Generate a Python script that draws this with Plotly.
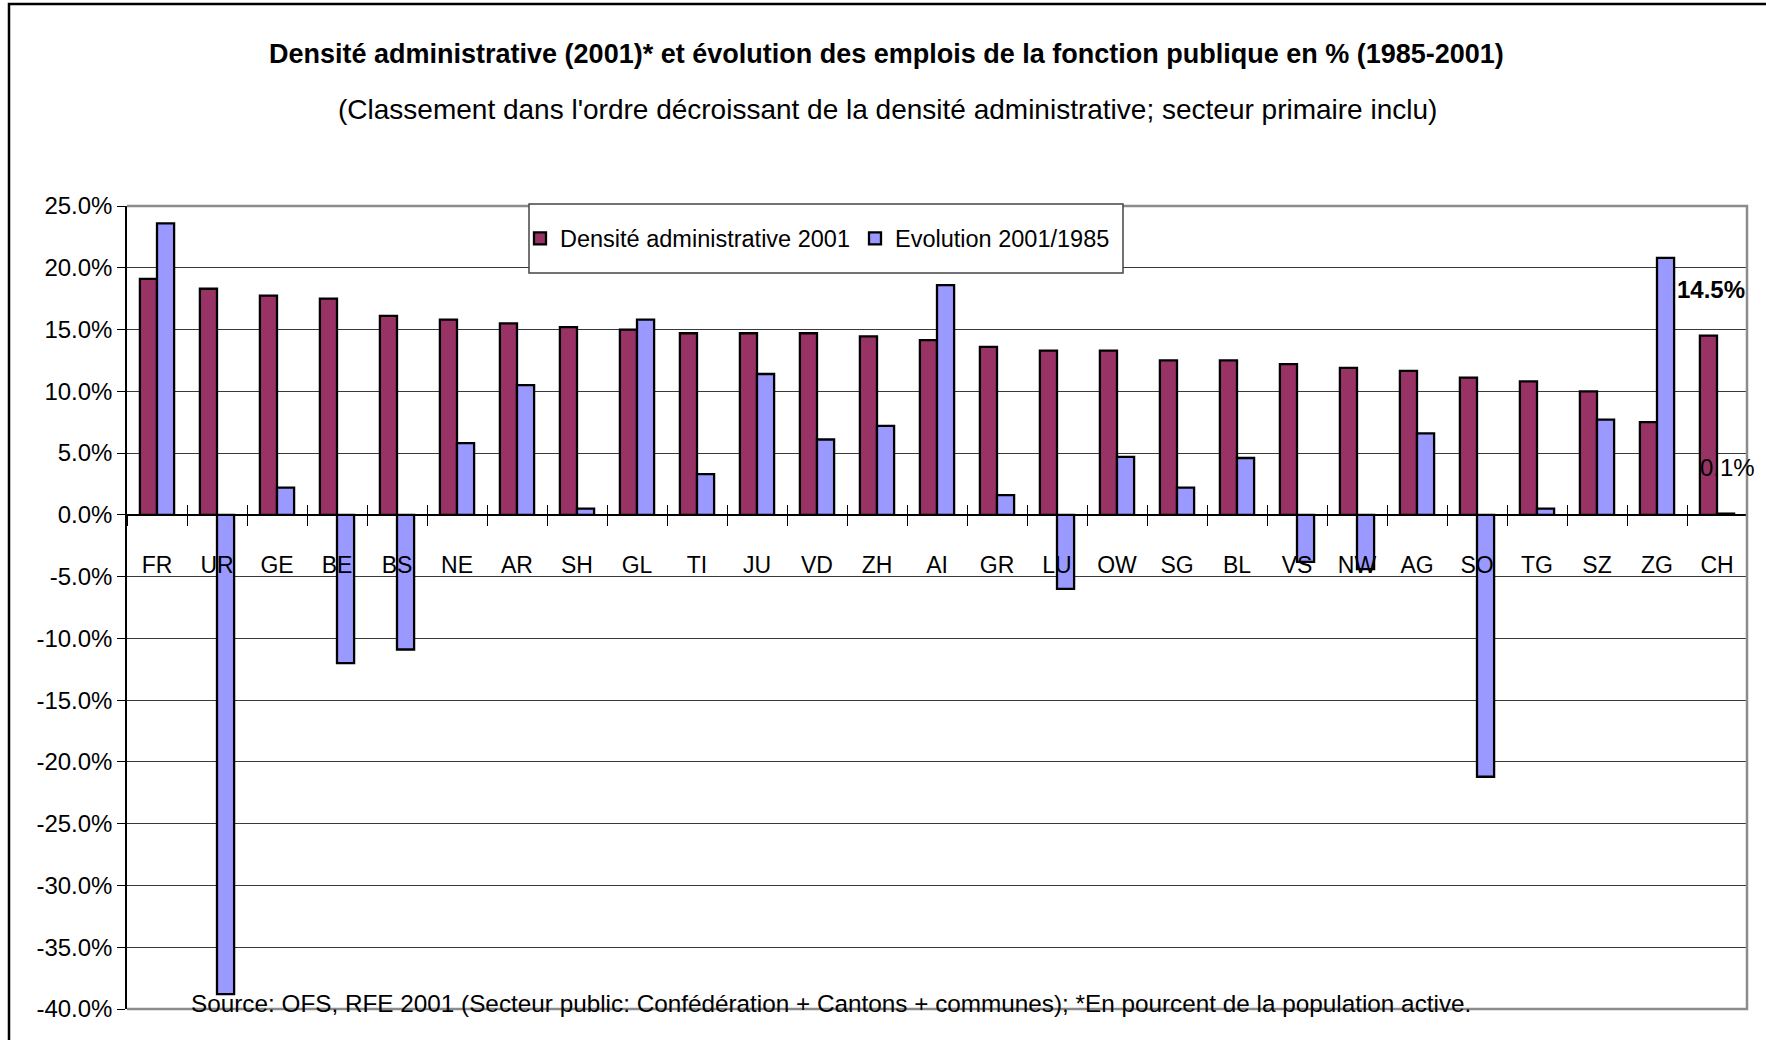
import plotly.graph_objects as go

# ---------------- data ----------------
cantons = ["FR", "UR", "GE", "BE", "BS", "NE", "AR", "SH", "GL", "TI", "JU", "VD", "ZH", "AI",
           "GR", "LU", "OW", "SG", "BL", "VS", "NW", "AG", "SO", "TG", "SZ", "ZG", "CH"]
densite = [19.1, 18.3, 17.75, 17.5, 16.1, 15.8, 15.5, 15.2, 15.0, 14.7, 14.7, 14.7, 14.45, 14.15,
           13.6, 13.3, 13.3, 12.5, 12.5, 12.2, 11.9, 11.65, 11.1, 10.8, 10.0, 7.5, 14.5]
evolution = [23.6, -38.8, 2.2, -12.0, -10.9, 5.8, 10.5, 0.5, 15.8, 3.3, 11.4, 6.1, 7.2, 18.6,
             1.6, -6.0, 4.7, 2.2, 4.6, -3.8, -4.4, 6.6, -21.2, 0.5, 7.7, 20.8, 0.1]
y_ticks = [25, 20, 15, 10, 5, 0, -5, -10, -15, -20, -25, -30, -35, -40]
y_ticktext = [f"{v:.1f}%" for v in y_ticks]

series_names = ["Densité administrative 2001", "Evolution 2001/1985"]
title_text = "Densité administrative (2001)* et évolution des emplois de la fonction publique en % (1985-2001)"
subtitle_text = "(Classement dans l'ordre décroissant de la densité administrative; secteur primaire inclu)"
source_text = ("Source: OFS, RFE 2001 (Secteur public: Confédération + Cantons + communes); "
               "*En pourcent de la population active.")

# ---------------- layout geometry (pixels) ----------------
W, H = 1766, 1040
L, R, T, B = 127, 19, 206, 31
PW, PH = W - L - R, H - T - B
YMIN, YMAX = -40, 25
ZERO_POS = (0 - YMIN) / (YMAX - YMIN)
X_RANGE = [-0.5, len(cantons) - 0.5]


def px_x(px):
    return (px - L) / PW


def px_y(py):
    return (H - B - py) / PH


ARIAL = "Liberation Sans, Arial, sans-serif"

fig = go.Figure()
fig.add_trace(go.Bar(
    x=cantons, y=densite, name=series_names[0],
    marker=dict(color="#993366", line=dict(color="black", width=2.3)),
))
fig.add_trace(go.Bar(
    x=cantons, y=evolution, name=series_names[1],
    marker=dict(color="#9999FF", line=dict(color="black", width=2.3)),
))
# invisible helper trace so the overlaid category axis (upper half of the cross ticks) exists
fig.add_trace(go.Scatter(
    x=cantons, y=densite, xaxis="x2", mode="markers", marker=dict(opacity=0, size=1),
    showlegend=False, hoverinfo="skip",
))

fig.update_layout(
    width=W, height=H,
    margin=dict(l=L, r=R, t=T, b=B, pad=0),
    paper_bgcolor="white", plot_bgcolor="white",
    barmode="group", bargap=0.43, bargroupgap=0.0,
    font=dict(family=ARIAL, size=24, color="black"),
    showlegend=True,
    legend=dict(
        orientation="h", x=px_x(520), y=px_y(238.5), xanchor="left", yanchor="middle",
        font=dict(family=ARIAL, size=23.5, color="black"),
        bgcolor="rgba(0,0,0,0)", borderwidth=0, itemwidth=30,
    ),
    xaxis=dict(
        type="category", anchor="free", position=ZERO_POS, range=X_RANGE, autorange=False,
        showline=True, linecolor="black", linewidth=1.5,
        ticks="outside", tickson="boundaries", ticklen=10, tickcolor="black", tickwidth=1,
        showgrid=False, zeroline=False,
        tickfont=dict(family=ARIAL, size=23, color="black"),
        ticklabelstandoff=30,
    ),
    xaxis2=dict(
        type="category", overlaying="x", anchor="free", position=ZERO_POS,
        range=X_RANGE, autorange=False,
        side="bottom", showline=False, showgrid=False, zeroline=False,
        ticks="inside", tickson="boundaries", ticklen=10, tickcolor="black", tickwidth=1,
        showticklabels=False,
    ),
    yaxis=dict(
        range=[YMIN, YMAX], tickvals=y_ticks, ticktext=y_ticktext,
        showgrid=True, gridcolor="#3a3a3a", gridwidth=1,
        zeroline=False, showline=True, linecolor="black", linewidth=1.5,
        ticks="outside", ticklen=8, tickcolor="black",
        tickfont=dict(family=ARIAL, size=24, color="black"),
    ),
)

shapes = [
    # outer chart frame
    dict(type="rect", xref="paper", yref="paper",
         x0=px_x(9), x1=px_x(W + 20), y0=px_y(H + 20), y1=px_y(4),
         line=dict(color="black", width=2.5), fillcolor="rgba(0,0,0,0)", layer="below"),
    # plot area border (top, right, bottom)
    dict(type="path", xref="paper", yref="paper",
         path="M 0,1 L 1,1 L 1,0 L 0,0",
         line=dict(color="#8c8c8c", width=2.5), layer="above"),
    # legend box
    dict(type="rect", xref="paper", yref="paper",
         x0=px_x(529), x1=px_x(1123), y0=px_y(273), y1=px_y(204),
         line=dict(color="#444444", width=1.5), fillcolor="white", layer="above"),
]
fig.update_layout(shapes=shapes)

annotations = [
    dict(text=f"<b>{title_text}</b>", xref="paper", yref="paper", x=px_x(886), y=px_y(54),
         xanchor="center", yanchor="middle", showarrow=False,
         font=dict(family=ARIAL, size=27, color="black")),
    dict(text=subtitle_text, xref="paper", yref="paper", x=px_x(887), y=px_y(110),
         xanchor="center", yanchor="middle", showarrow=False,
         font=dict(family=ARIAL, size=28, color="black")),
    dict(text=source_text, xref="paper", yref="paper", x=px_x(189), y=px_y(1003),
         xanchor="left", yanchor="middle", showarrow=False,
         font=dict(family=ARIAL, size=24.3, color="black")),
    dict(text=f"<b>{densite[-1]:.1f}%</b>", xref="x", yref="y", x=cantons[-1], y=densite[-1],
         xshift=-6, yshift=46, showarrow=False, xanchor="center", yanchor="middle",
         font=dict(family=ARIAL, size=24, color="black")),
    dict(text=f"{evolution[-1]:.1f}%", xref="x", yref="y", x=cantons[-1], y=evolution[-1],
         xshift=10, yshift=46, showarrow=False, xanchor="center", yanchor="middle",
         font=dict(family=ARIAL, size=24, color="black")),
]
fig.update_layout(annotations=annotations)

fig.write_html("out.html", config={"displayModeBar": False},
               post_script="document.body.style.margin='0';")
